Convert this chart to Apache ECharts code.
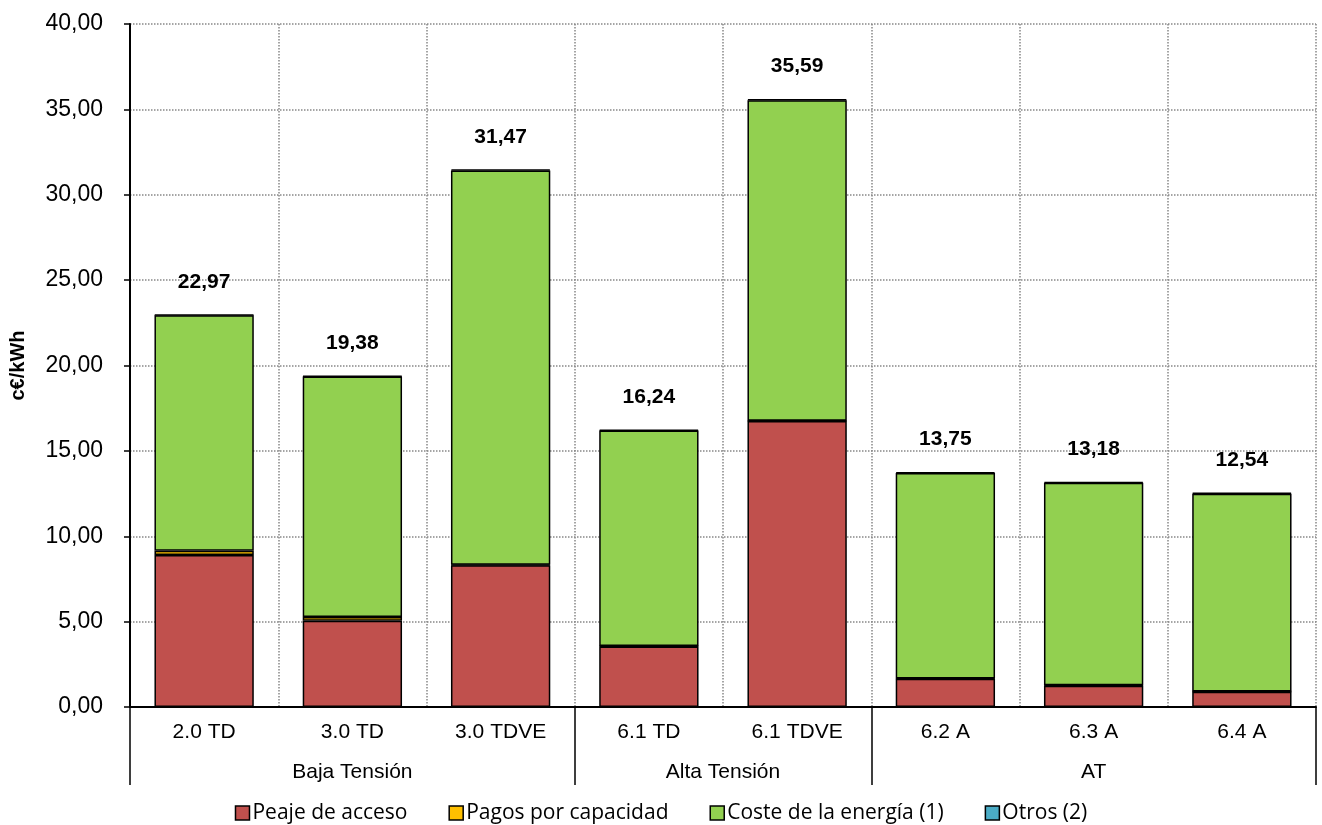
<!DOCTYPE html>
<html><head><meta charset="utf-8">
<script src="https://cdn.jsdelivr.net/npm/echarts@6/dist/echarts.min.js"></script>
<style>html,body{margin:0;padding:0;background:#fff}#c{width:1322px;height:825px}</style>
</head><body><div id="c"></div>
<script>
const categories = ['2.0 TD','3.0 TD','3.0 TDVE','6.1 TD','6.1 TDVE','6.2 A','6.3 A','6.4 A'];
const groups = ['Baja Tensión','Alta Tensión','AT'];
const groupBounds = [0, 3, 5, 8];
const groupCenters = [1.5, 4, 6.5];
const peaje = [8.90, 5.05, 8.30, 3.55, 16.75, 1.65, 1.25, 0.90];
const pagos = [0.25, 0.22, 0.03, 0.02, 0.02, 0.02, 0.02, 0.01];
const coste = [13.79, 14.08, 23.09, 12.62, 18.77, 12.03, 11.86, 11.58];
const otros = [0.03, 0.03, 0.05, 0.05, 0.05, 0.05, 0.05, 0.05];
const totals = [22.97, 19.38, 31.47, 16.24, 35.59, 13.75, 13.18, 12.54];
const yTicks = [0, 5, 10, 15, 20, 25, 30, 35, 40];

const fmt = v => v.toFixed(2).replace('.', ',');
const chart = echarts.init(document.getElementById('c'));
const baseFont = '"Liberation Sans", Arial, sans-serif';
const seriesStyle = (name, data, color) => ({
  name, type: 'bar', stack: 't', data, barWidth: '67%',
  itemStyle: { color, borderColor: '#000', borderWidth: 1.5 }
});
const s4 = seriesStyle('Otros (2)', otros, '#4BACC6');
s4.label = {
  show: true, position: 'top', distance: 22,
  formatter: p => fmt(totals[p.dataIndex]),
  fontFamily: baseFont, fontWeight: 'bold', fontSize: 21, color: '#000'
};
chart.setOption({
  animation: false,
  grid: { left: 130, right: 6, top: 24, bottom: 118 },
  legend: {
    top: 800, left: 'center', itemWidth: 14, itemHeight: 14, itemGap: 41, padding: 0,
    icon: 'rect',
    data: ['Peaje de acceso','Pagos por capacidad','Coste de la energía (1)','Otros (2)'],
    textStyle: { fontFamily: '"Open Sans", sans-serif', fontSize: 21, lineHeight: 26, color: '#000', padding: [0,0,0,-2] },
    itemStyle: { borderColor: '#000', borderWidth: 1.5 }
  },
  xAxis: [{
    type: 'category', data: categories,
    axisLine: { lineStyle: { color: '#000', width: 2 } },
    axisTick: { length: 38, lineStyle: { color: '#000', width: 1.5 } },
    axisLabel: { fontFamily: baseFont, fontSize: 21, color: '#000', margin: 15 },
    splitLine: { show: true, lineStyle: { color: '#888', type: 'dotted', width: 1.5 } }
  }, {
    type: 'value', position: 'bottom', min: 0, max: 8,
    axisLine: { show: false },
    axisTick: { show: true, customValues: groupBounds, length: 78, lineStyle: { color: '#000', width: 1.5 } },
    axisLabel: {
      customValues: groupCenters, margin: 55,
      formatter: v => groups[groupCenters.indexOf(v)] || '',
      fontFamily: baseFont, fontSize: 21, color: '#000'
    },
    splitLine: { show: false }
  }],
  yAxis: {
    type: 'value', min: 0, max: 40, interval: 5,
    name: 'c€/kWh', nameLocation: 'middle', nameGap: 102,
    nameTextStyle: { fontFamily: baseFont, fontWeight: 'bold', fontSize: 20, color: '#000' },
    axisLine: { show: true, lineStyle: { color: '#000', width: 2 } },
    axisTick: { show: true, length: 6, lineStyle: { color: '#000', width: 1.5 } },
    axisLabel: { fontFamily: baseFont, fontSize: 23, color: '#000', margin: 27, formatter: v => yTicks.includes(v) ? fmt(v) : '' },
    splitLine: { lineStyle: { color: '#888', type: 'dotted', width: 1.5 } }
  },
  series: [
    seriesStyle('Peaje de acceso', peaje, '#C0504D'),
    seriesStyle('Pagos por capacidad', pagos, '#FFC000'),
    seriesStyle('Coste de la energía (1)', coste, '#92D050'),
    s4
  ]
});
</script></body></html>
